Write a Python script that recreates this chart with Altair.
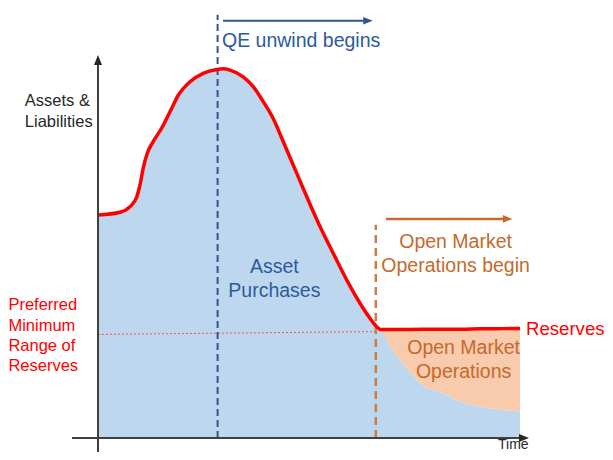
import altair as alt
import pandas as pd

# ---------------- data (conceptual units: time t, level v) ----------------
# Red "assets & liabilities" curve up to where open market operations begin
pre_t = [0, 5.5, 8, 9.7, 10.5, 11.3, 12.3, 13.8, 15.9, 18, 20.1, 23, 26.3, 29.7, 31.3, 33,
         36.3, 38.8, 41.3, 43.8, 46.3, 48.8, 51.3, 53.8, 55.5, 58.8, 62.2, 65.5, 68, 69.7, 70.7]
pre_v = [63.7, 64.5, 66.1, 68.9, 72.3, 77.1, 81.3, 84.7, 88.5, 93.2, 98.0, 101.8, 104.2, 105.3, 105.5, 105.1,
         103.2, 100.4, 96.1, 91.3, 84.7, 78.0, 71.3, 64.7, 60.4, 52.8, 45.1, 38.5, 34.2, 31.8, 31.0]
# After open market operations begin
post_t = [73, 76.25, 81.25, 86.25, 90.5, 95.5, 101.25, 105.5]
post_reserves = [31.0, 31.0, 31.05, 31.1, 31.1, 31.2, 31.25, 31.3]
post_assets = [26.1, 21.3, 15.1, 12.8, 10.4, 8.9, 8.0, 7.5]

# Preferred minimum reserves (dotted)
pref_t = [0, 69.5]
pref_v = [29.6, 30.4]

# Event times
QE_T = 29.9
OMO_T = 69.45

# Labels
label_text = ["QE unwind begins", "Asset", "Purchases", "Open Market", "Operations begin",
              "Open Market", "Operations", "Reserves", "Preferred", "Minimum", "Range of",
              "Reserves", "Assets &", "Liabilities", "Time"]
label_t = [31.0, 44.1, 44.1, 89.4, 89.4, 91.4, 91.4, 107.0, -22.4, -22.4, -22.4, -22.4,
           -18.3, -18.3, 100.0]
label_v = [111.8, 47.1, 40.4, 54.2, 47.5, 24.0, 17.2, 29.4, 36.6, 30.7, 24.9, 19.1,
           94.9, 88.9, -4.0]
label_align = ["left", "center", "center", "center", "center", "center", "center", "left",
               "left", "left", "left", "left", "left", "left", "left"]
label_base = ["alphabetic"] * 14 + ["bottom"]
BLUE_T = "#2E5A9C"
ORANGE_T = "#C5692C"
RED = "#FF0000"
DARK = "#262626"
label_color = [BLUE_T, BLUE_T, BLUE_T, ORANGE_T, ORANGE_T, ORANGE_T, ORANGE_T, RED,
               RED, RED, RED, RED, DARK, DARK, DARK]
label_size = [19.5, 19.5, 19.5, 19.5, 19.5, 19.5, 19.5, 18.6, 16.5, 16.5, 16.5, 16.5,
              16.5, 16.5, 14]

# ---------------- scales ----------------
X_DOMAIN = [-22.5, 126.75]
Y_DOMAIN = [-4.0, 122.857]
FONT = "Liberation Sans"


def X(field="t"):
    return alt.X(f"{field}:Q", scale=alt.Scale(domain=X_DOMAIN, nice=False, zero=False), axis=None)


def Y(field="v"):
    return alt.Y(f"{field}:Q", scale=alt.Scale(domain=Y_DOMAIN, nice=False, zero=False), axis=None)


curve_df = pd.DataFrame({"t": pre_t + post_t, "v": pre_v + post_reserves})
blue_df = pd.DataFrame({"t": pre_t + post_t, "v": pre_v + post_assets, "v0": 0.0})
orange_df = pd.DataFrame({"t": [pre_t[-1]] + post_t,
                          "top": [pre_v[-1]] + post_reserves,
                          "bottom": [pre_v[-1]] + post_assets})
labels_df = pd.DataFrame({"t": label_t, "v": label_v, "text": label_text,
                          "color": label_color, "size": label_size, "align": label_align,
                          "base": label_base})


def seg(t1, v1, t2, v2, color, width, dash=None):
    df = pd.DataFrame({"t1": [t1], "v1": [v1], "t2": [t2], "v2": [v2]})
    kw = dict(color=color, strokeWidth=width)
    if dash:
        kw["strokeDash"] = dash
    return alt.Chart(df).mark_rule(**kw).encode(
        x=X("t1"), x2="t2:Q", y=Y("v1"), y2="v2:Q")


def head(t, v, path, color, size):
    df = pd.DataFrame({"t": [t], "v": [v]})
    return alt.Chart(df).mark_point(shape=path, filled=True, size=size, color=color,
                                    opacity=1, strokeWidth=0).encode(x=X(), y=Y())


UP = "M -0.8 1 L 0 -1 L 0.8 1 Z"
RIGHT = "M -1 -0.8 L 1 0 L -1 0.8 Z"

blue_area = alt.Chart(blue_df).mark_area(color="#BDD7EE", opacity=1, interpolate="monotone").encode(
    x=X(), y=Y("v"), y2="v0:Q")
orange_area = alt.Chart(orange_df).mark_area(color="#F8CBAD", opacity=1, interpolate="monotone").encode(
    x=X(), y=Y("top"), y2="bottom:Q")
pref_line = seg(pref_t[0], pref_v[0], pref_t[1], pref_v[1], "#FF5050", 1, [2, 2])
qe_dash = seg(QE_T, 0, QE_T, 120.9, "#2F5597", 2, [7, 4])
omo_dash = seg(OMO_T, 0, OMO_T, 60.9, "#CC7B42", 2.5, [8, 5])
red_line = alt.Chart(curve_df).mark_line(color=RED, strokeWidth=3.5, interpolate="monotone").encode(
    x=X(), y=Y("v"))

y_axis = seg(0, -4, 0, 107.5, "#404040", 2)
y_head = head(0, 108.0, UP, "#262626", 100)
x_axis = seg(-6.5, 0, 105.5, 0, "#404040", 2)
x_head = head(106.5, 0, RIGHT, "#262626", 100)

qe_arrow = seg(31.25, 119.2, 67.0, 119.2, "#2F5597", 2)
qe_head = head(67.5, 119.2, RIGHT, "#2F5597", 90)
omo_arrow = seg(72.0, 62.6, 101.75, 62.6, "#C5692C", 2.5)
omo_head = head(102.4, 62.6, RIGHT, "#C5692C", 90)

text_layers = []
for al, bl in [("left", "alphabetic"), ("center", "alphabetic"), ("left", "bottom")]:
    sub = labels_df[(labels_df["align"] == al) & (labels_df["base"] == bl)]
    text_layers.append(
        alt.Chart(sub).mark_text(align=al, baseline=bl, font=FONT).encode(
            x=X(), y=Y(), text="text:N",
            color=alt.Color("color:N", scale=None),
            size=alt.Size("size:Q", scale=None)))

chart = alt.layer(
    blue_area, orange_area, pref_line, qe_dash, omo_dash, red_line,
    y_axis, y_head, x_axis, x_head, qe_arrow, qe_head, omo_arrow, omo_head,
    *text_layers
).properties(
    width=597, height=444,
    autosize=alt.AutoSizeParams(type="none"),
    padding=0,
    background="white",
).configure_view(stroke=None)

chart.save("out.html", embed_options={"renderer": "svg", "actions": False})
